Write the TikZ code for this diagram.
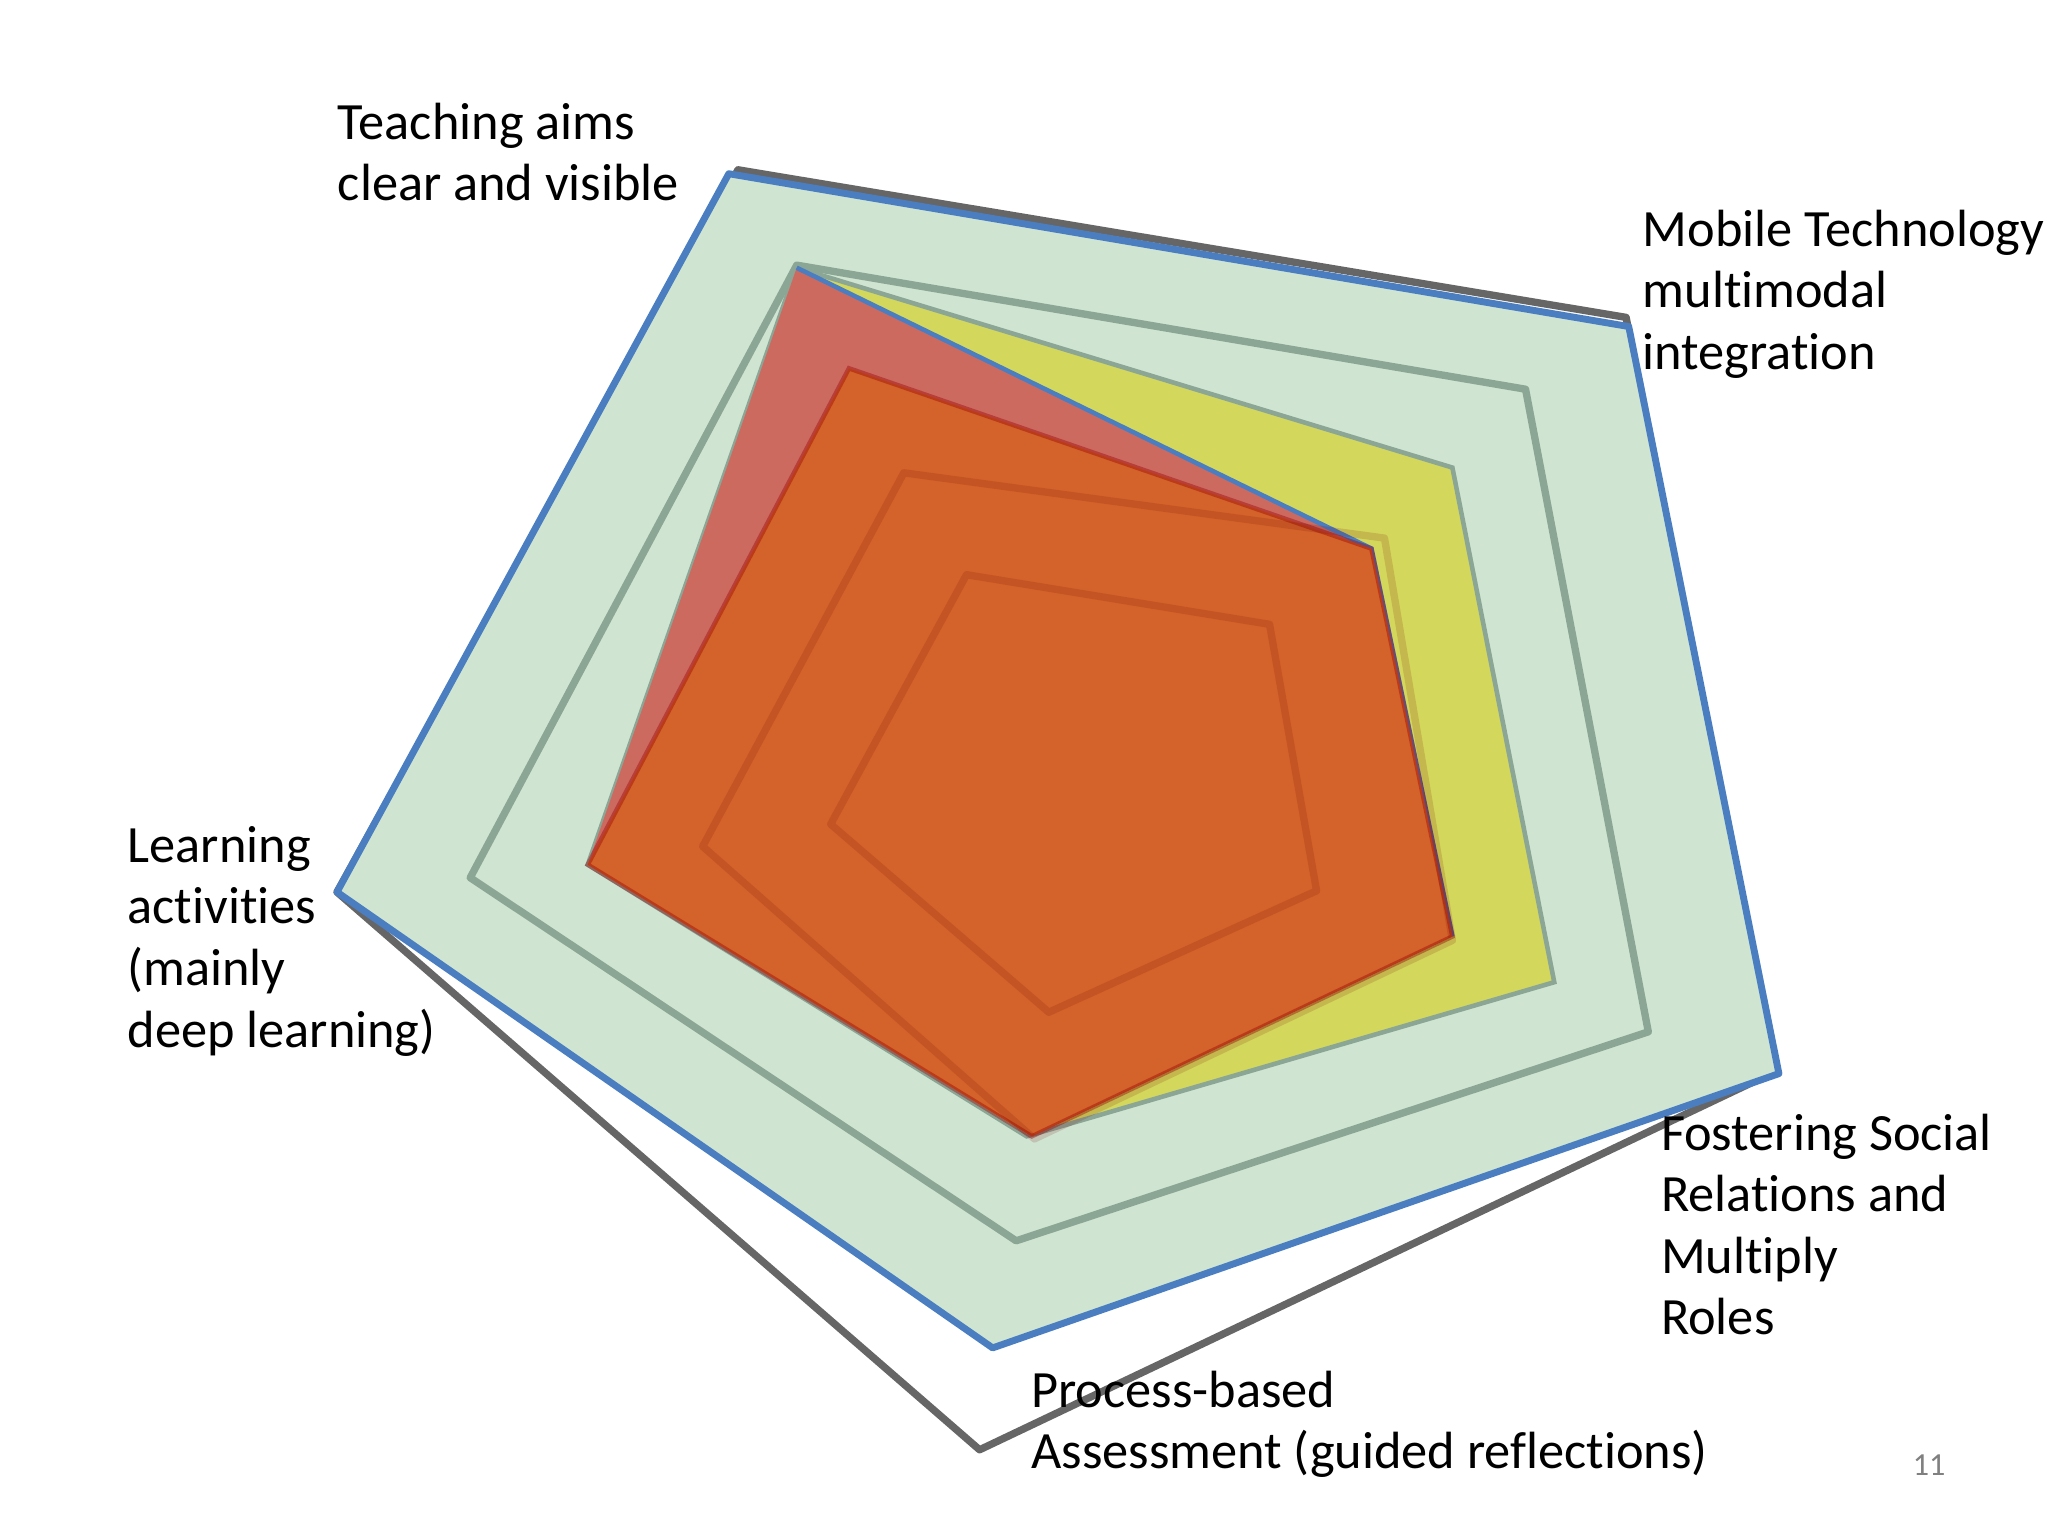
\documentclass[tikz,border=0pt]{standalone}
\usepackage{fontspec}
\setmainfont[Ligatures={NoCommon}]{Carlito}
\definecolor{gfill}{RGB}{207,229,210}
\definecolor{yfill}{RGB}{211,216,92}
\definecolor{rfill}{RGB}{205,106,96}
\definecolor{ofill}{RGB}{211,99,42}
\definecolor{ringc}{RGB}{140,166,150}
\definecolor{bluec}{RGB}{74,126,192}
\begin{document}
\begin{tikzpicture}[x=0.01cm,y=-0.01cm,
  lbl/.style={anchor=north west,align=left,inner sep=0pt,font=\fontsize{11.4pt}{13.4pt}\selectfont},
  ring/.style={draw=ringc,line width=1.6pt,line join=round}]
\useasboundingbox (0,0) rectangle (1568,1176);
\draw[gray!80!black,line width=1.6pt,line join=round] (565,130)--(1245,243)--(1360,820)--(750,1110)--(258,683)--cycle;
\fill[gfill] (558,133)--(1247,250)--(1362,822)--(760,1032)--(258,683)--cycle;
\draw[bluec,line width=1.5pt,line join=round] (558,133)--(1247,250)--(1362,822)--(760,1032)--(258,683)--cycle;
\draw[ring] (610,203)--(1168,298)--(1262,790)--(778,950)--(360,672)--cycle;
\fill[yfill] (610,205)--(1112,358)--(1190,752)--(786,870)--(450,662)--cycle;
\draw[ringc,line width=1pt] (610,205)--(1112,358)--(1190,752)--(786,870)--(450,662)--cycle;
\fill[rfill] (610,205)--(1050,420)--(1112,717)--(790,870)--(450,662)--cycle;
\draw[bluec,line width=1pt] (610,205)--(1050,420)--(1112,717);
\fill[ofill] (650,282)--(1050,420)--(1112,717)--(790,870)--(450,662)--cycle;
\draw[red!60!black,opacity=0.4,line width=1pt] (650,282)--(1050,420)--(1112,717)--(790,870)--(450,662)--cycle;
\draw[ring,draw=red!45!black,opacity=0.15] (692,362)--(1060,412)--(1112,720)--(792,872)--(538,648)--cycle;
\draw[ring,draw=red!45!black,opacity=0.15] (740,440)--(972,478)--(1008,682)--(803,775)--(636,631)--cycle;
\node[lbl] (a) at (258,78) {Teaching aims\\clear and visible};
\node[lbl] (b) at (1257,160) {Mobile Technology\\multimodal\\integration};
\node[lbl] (c) at (1271,852) {Fostering Social\\Relations and\\Multiply\\Roles};
\node[lbl] (d) at (789,1049) {Process-based\\Assessment (guided reflections)};
\node[lbl] (e) at (97,632) {Learning\\activities\\(mainly\\deep learning)};
\node[anchor=center,inner sep=0pt,text=gray,font=\fontsize{7pt}{8pt}\selectfont] (n) at (1477,1122) {11};
\end{tikzpicture}
\end{document}
